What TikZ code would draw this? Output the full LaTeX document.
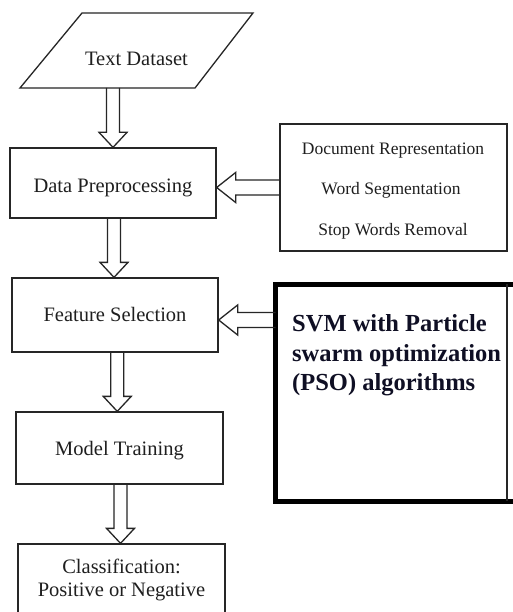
\documentclass[tikz,border=0pt]{standalone}
\usepackage{fontspec}
\setmainfont{Liberation Serif}
\usetikzlibrary{calc}
\definecolor{linec}{rgb}{0.15,0.15,0.15}
\definecolor{txtc}{rgb}{0.12,0.12,0.12}
\definecolor{svmc}{rgb}{0.06,0.06,0.14}
\begin{document}
\begin{tikzpicture}[x=1pt,y=-1pt,
  boxst/.style={draw=linec, line width=1.3pt, inner sep=0pt},
  lbl/.style={anchor=base, text=txtc, inner sep=0pt, font=\fontsize{20.5}{24}\selectfont},
  sublbl/.style={anchor=base, text=txtc, inner sep=0pt, font=\fontsize{17.5}{21}\selectfont},
  svmlbl/.style={anchor=base west, text=svmc, inner sep=0pt, font=\bfseries\fontsize{24.5}{29}\selectfont},
  arrowst/.style={draw=linec, line width=1.3pt, line join=miter},
  blockdown/.style={to path={let \p1=(\tikztostart), \p2=(\tikztotarget), \n1={(\x1+\x2)/2} in
    (\n1-6.5pt,\y1) -- (\n1-6.5pt,\y2+15pt) -- (\n1-14pt,\y2+15pt) -- (\n1,\y2)
    -- (\n1+14pt,\y2+15pt) -- (\n1+6.5pt,\y2+15pt) -- (\n1+6.5pt,\y1)}},
  blockleft/.style={to path={let \p1=(\tikztostart), \p2=(\tikztotarget) in
    (\x1,\y1+7.5pt) -- (\x2+19pt,\y1+7.5pt) -- (\x2+19pt,\y1+15pt) -- (\x2,\y1)
    -- (\x2+19pt,\y1-15pt) -- (\x2+19pt,\y1-7.5pt) -- (\x1,\y1-7.5pt)}}
]
\useasboundingbox[fill=white] (0,0) rectangle (513,612);

% Text Dataset (parallelogram)
\coordinate (p1) at (82,13);
\coordinate (p2) at (253,13);
\coordinate (p3) at (195,88);
\coordinate (p4) at (20,88);
\draw[boxst, line join=miter] (p1) -- (p2) -- (p3) -- (p4) -- cycle;
\coordinate (dsb) at (113,88);
\node[lbl] (dst) at (136.5,66) {Text Dataset};

% Left column boxes
\node[boxst, minimum width=206pt, minimum height=70pt] (dp) at (113,183) {};
\node[lbl] (dpt) at (113,193) {Data Preprocessing};

\node[boxst, minimum width=206pt, minimum height=74pt] (fs) at (115,315) {};
\node[lbl] (fst) at (115,321.5) {Feature Selection};

\node[boxst, minimum width=207pt, minimum height=72pt] (mt) at (119.5,448) {};
\node[lbl] (mtt) at (119.5,455) {Model Training};

\node[boxst, minimum width=207pt, minimum height=76pt] (cl) at (121.5,582) {};
\node[lbl] (clt1) at (121.5,573) {Classification:};
\node[lbl] (clt2) at (121.5,596.5) {Positive or Negative};

% Right box with preprocessing steps
\node[boxst, minimum width=227pt, minimum height=127pt] (rb) at (393.5,187.5) {};
\node[sublbl] (rb1) at (393,155) {Document Representation};
\node[sublbl] (rb2) at (391,194.5) {Word Segmentation};
\node[sublbl] (rb3) at (393,235) {Stop Words Removal};

% SVM box (thick frame)
\node[inner sep=0pt, minimum width=231.5pt, minimum height=216.5pt] (svm) at (391.25,392.75) {};
\draw[draw=black, line width=5pt, line join=miter]
  ($(svm.north east)+(12,0)$) -- (svm.north west) -- (svm.south west) -- ($(svm.south east)+(12,0)$);
\draw[draw=linec, line width=1.5pt] (svm.north east) -- (svm.south east);
\node[svmlbl] (svm1) at (292,331.5) {SVM with Particle};
\node[svmlbl] (svm2) at (292,361) {swarm optimization};
\node[svmlbl] (svm3) at (292,390) {(PSO) algorithms};
\coordinate (svma) at (275.5,320);

% Block arrows
\draw[arrowst] (dsb) to[blockdown] (dp.north);
\draw[arrowst] (dp.south) to[blockdown] (fs.north);
\draw[arrowst] (fs.south) to[blockdown] (mt.north);
\draw[arrowst] (mt.south) to[blockdown] (cl.north);
\draw[arrowst] (rb.west) to[blockleft] (dp.east |- rb.west);
\draw[arrowst] (svma) to[blockleft] (fs.east |- svma);
\end{tikzpicture}
\end{document}
